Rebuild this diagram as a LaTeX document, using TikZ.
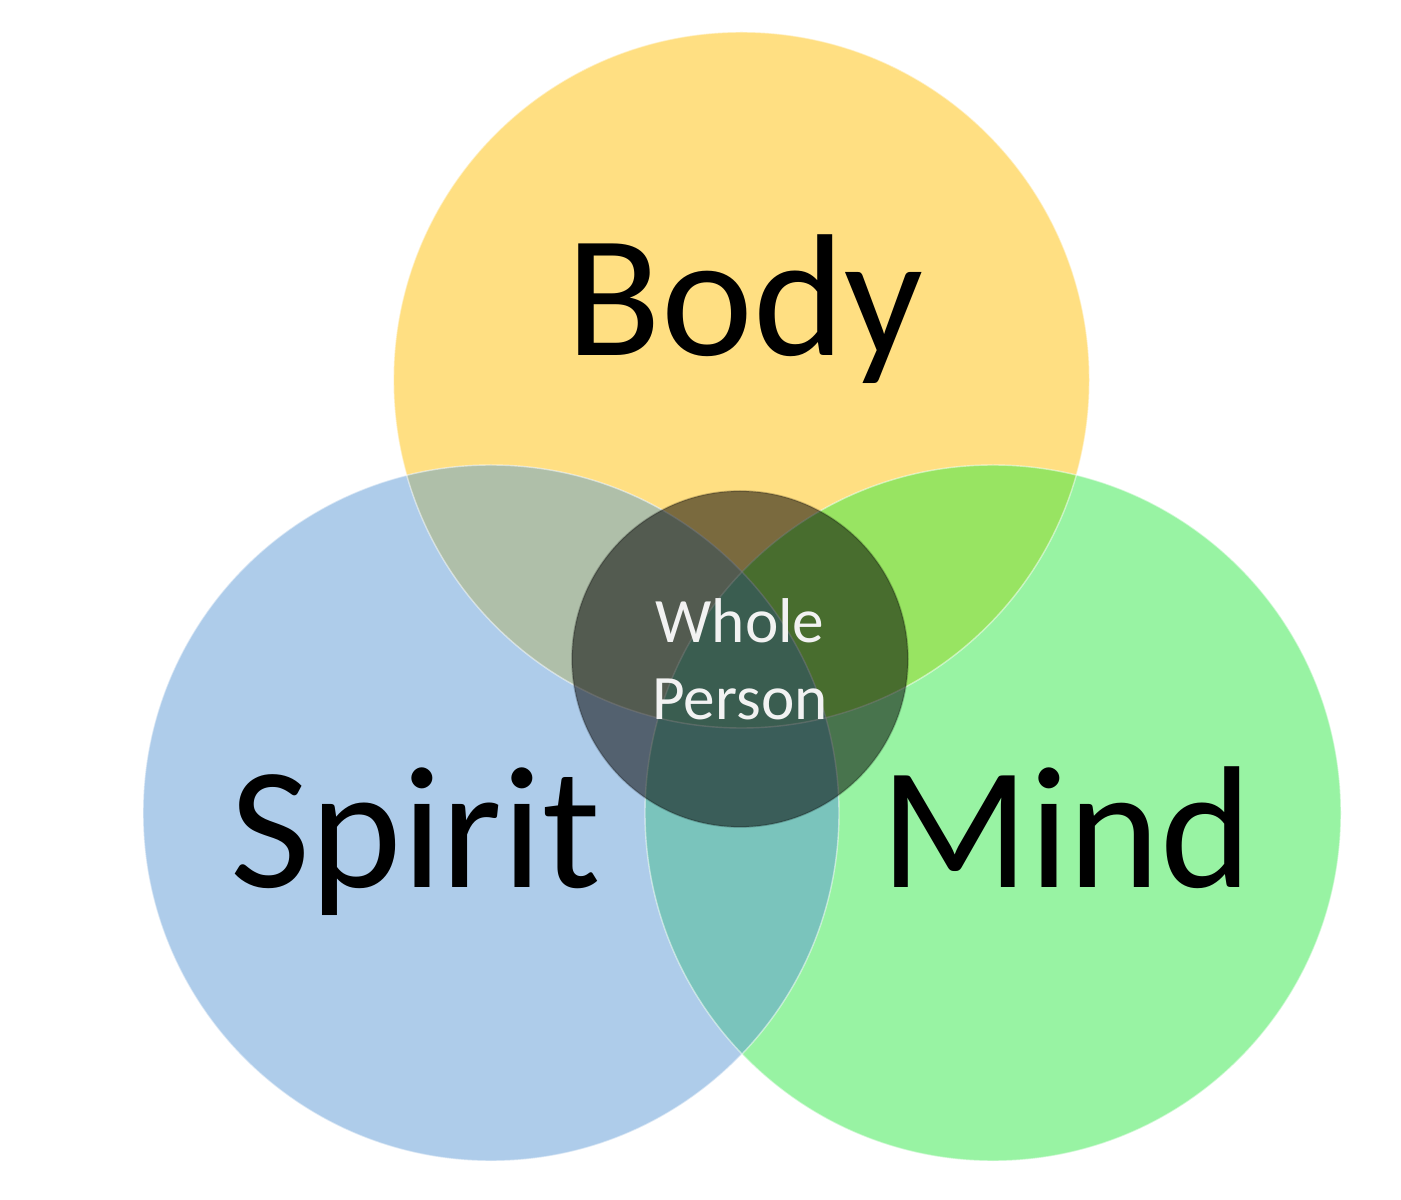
\documentclass[tikz,border=0pt]{standalone}
\usepackage{fontspec}
\setmainfont{Carlito}
\usepackage{tikz}
\definecolor{mybodycolor}{HTML}{FFDF82}
\definecolor{myspiritcolor}{HTML}{AECCEA}
\definecolor{mymindcolor}{HTML}{98F3A3}
\definecolor{mybodyspiritcolor}{HTML}{AFBFA9}
\definecolor{mybodymindcolor}{HTML}{98E462}
\definecolor{myspiritmindcolor}{HTML}{7AC4BC}
\definecolor{myallcolor}{HTML}{7AC3A8}
\definecolor{mylabelcolor}{HTML}{F2F2F2}

\begin{document}
\begin{tikzpicture}%
\useasboundingbox (0, 0) rectangle (28.02, -24);%
\coordinate (body) at (14.83, -7.60);%
\coordinate (spirit) at (9.82, -16.26);%
\coordinate (mind) at (19.86, -16.26);%
\coordinate (core) at (14.80, -13.18);%
\fill[mybodycolor] (body) circle (6.96);%
\fill[myspiritcolor] (spirit) circle (6.96);%
\fill[mymindcolor] (mind) circle (6.96);%
\begin{scope}\clip (body) circle (6.96);\fill[mybodyspiritcolor] (spirit) circle (6.96);\end{scope}%
\begin{scope}\clip (body) circle (6.96);\fill[mybodymindcolor] (mind) circle (6.96);\end{scope}%
\begin{scope}\clip (spirit) circle (6.96);\fill[myspiritmindcolor] (mind) circle (6.96);\end{scope}%
\begin{scope}\clip (body) circle (6.96);\clip (spirit) circle (6.96);\fill[myallcolor] (mind) circle (6.96);\end{scope}%
\draw[white, opacity=0.5, line width=0.8pt] (body) circle (6.96);%
\draw[white, opacity=0.5, line width=0.8pt] (spirit) circle (6.96);%
\draw[white, opacity=0.5, line width=0.8pt] (mind) circle (6.96);%
\fill[black, fill opacity=0.52] (core) circle (3.36);%
\draw[black, opacity=0.2, line width=1pt] (core) circle (3.36);%
\node[anchor=base] (bodylabel) at (14.9, -7.12) {\fontsize{99pt}{99pt}\selectfont Body};%
\node[anchor=base] (spiritlabel) at (8.32, -17.74) {\fontsize{99pt}{99pt}\selectfont Spirit};%
\node[anchor=base] (mindlabel) at (21.32, -17.74) {\fontsize{99pt}{99pt}\selectfont Mind};%
\node[anchor=base, text=mylabelcolor] (wholelabel) at (14.80, -12.86) {\fontsize{36pt}{36pt}\selectfont Whole};%
\node[anchor=base, text=mylabelcolor] (personlabel) at (14.80, -14.40) {\fontsize{36pt}{36pt}\selectfont Person};%
\end{tikzpicture}
\end{document}
